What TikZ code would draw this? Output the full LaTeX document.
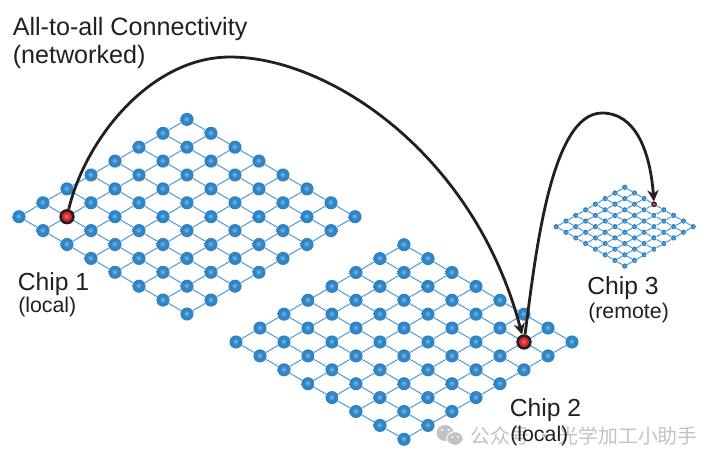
\documentclass[tikz,border=0pt]{standalone}
\usepackage{fontspec}
\usepackage{tikz}
\usepackage{xcolor}
\usetikzlibrary{arrows.meta,positioning,calc}
\setmainfont{Liberation Sans}
\newfontfamily\cjk{Noto Sans CJK SC}
\definecolor{cA}{HTML}{231f20}
\definecolor{cB}{HTML}{2f84c6}
\definecolor{cC}{HTML}{559fd8}
\definecolor{cD}{HTML}{d2232f}
\definecolor{cE}{HTML}{c2c2c2}
\definecolor{cF}{HTML}{7fbde6}
\definecolor{cG}{HTML}{1f66a5}
\definecolor{cH}{HTML}{ee6a70}
\definecolor{cI}{HTML}{a81a26}
\pgfdeclareradialshading{qubitball}{\pgfpoint{-3bp}{3bp}}{color(0bp)=(cF);color(12bp)=(cB);color(23bp)=(cB);color(30bp)=(cG);color(50bp)=(cG)}
\pgfdeclareradialshading{hubball}{\pgfpoint{-3bp}{3bp}}{color(0bp)=(cH);color(14bp)=(cD);color(24bp)=(cD);color(31bp)=(cI);color(50bp)=(cI)}
\tikzset{
  qubit/.style={circle,inner sep=0pt,minimum size=9.8pt,shading=qubitball},
  tinyqubit/.style={circle,inner sep=0pt,minimum size=3.9pt,shading=qubitball},
  hub/.style={circle,inner sep=0pt,minimum size=9.6pt,shading=hubball,draw=cA,line width=1.9pt},
  tinyhub/.style={circle,inner sep=0pt,minimum size=3.4pt,shading=hubball,draw=cA,line width=0.8pt},
  coupler/.style={cC,line width=0.8pt},
  link/.style={-{Stealth[length=8.5pt,width=8.5pt]},cA,line width=2.1pt},
  title/.style={inner sep=0pt,anchor=base west,font=\fontsize{18.85}{21}\selectfont,text=cA},
  chiplabel/.style={inner sep=0pt,anchor=base west,font=\fontsize{18.5}{21}\selectfont,text=cA},
  note/.style={inner sep=0pt,anchor=base west,font=\fontsize{16}{19}\selectfont,text=cA},
  stamp/.style={inner sep=0pt,anchor=base west,font=\cjk\fontsize{14.9}{18}\selectfont,text=cE},
}
% #1 name, #2 left corner x, #3 left corner y, #4 x step, #5 y step, #6 node style
\newcommand{\chipgrid}[6]{
  \foreach \i in {0,1,...,7}{
    \foreach \j in {0,1,...,7}{
      \node[#6] (#1-\i-\j) at ({#2+(\i+\j)*#4},{#3+(\j-\i)*#5}) {};
    }
  }
  \foreach \i in {0,1,...,7}{
    \foreach \j in {0,1,...,6}{
      \pgfmathtruncatemacro{\nxt}{\j+1}
      \draw[coupler] (#1-\i-\j) -- (#1-\i-\nxt);
      \draw[coupler] (#1-\j-\i) -- (#1-\nxt-\i);
    }
  }
}

\begin{document}
\begin{tikzpicture}[x=0.75pt,y=-0.75pt]
\useasboundingbox (0,0) rectangle (720,465);

\chipgrid{a}{19}{216.7}{24}{13.9}{qubit}
\chipgrid{b}{236}{342}{24}{13.9}{qubit}
\chipgrid{c}{556.3}{226.7}{9.78}{5.62}{tinyqubit}

\node[hub] (hubA) at (a-1-1) {};
\node[hub] (hubB) at (b-6-6) {};
\node[tinyhub] (hubC) at (c-7-3) {};

% long link
\coordinate (peakA) at (230,57);
\coordinate (peakB) at (602,113);
\draw[link] (hubA) .. controls (85,140) and (150,57) .. (peakA)
  .. controls (330,57) and (475,155) .. (hubB);
\draw[link] (hubB) .. controls (535,260) and (550,113) .. (peakB)
  .. controls (635,113) and (650,150) .. (hubC);

% watermark
\fill[cE] (445,433) ellipse (6.4pt and 6pt);
\fill[cE,draw=white,line width=0.7pt] (455,438.5) ellipse (6.2pt and 5.1pt);
\foreach \x/\y in {442/430,449/430,452/437,458/437}
  \fill[white] (\x,\y) circle (0.9pt);
\node[stamp] (wechat) at (470,443) {公众号 · 光学加工小助手};

\node[title] (titleA) at (12.5,35) {All-to-all Connectivity};
\node[title] (titleB) at (12.5,63) {(networked)};
\node[chiplabel] (chipA) at (17.5,290) {Chip 1};
\node[note] (noteA) at (18,312) {(local)};
\node[chiplabel] (chipB) at (509.5,416) {Chip 2};
\node[note] (noteB) at (510,441) {(local)};
\node[chiplabel] (chipC) at (587,294) {Chip 3};
\node[note] (noteC) at (588,318) {(remote)};
\end{tikzpicture}
\end{document}
